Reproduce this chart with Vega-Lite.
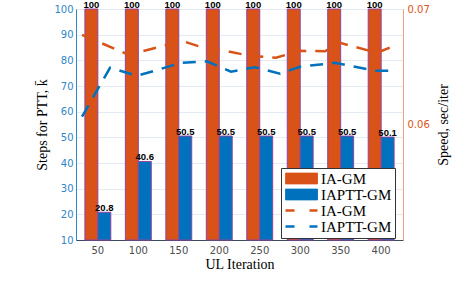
{
  "$schema": "https://vega.github.io/schema/vega-lite/v6.json",
  "width": 327,
  "height": 231,
  "autosize": {"type": "none"},
  "padding": {"left": 76, "top": 9, "right": 67, "bottom": 56},
  "background": "white",
  "config": {
    "view": {"stroke": "#8C8C8C", "strokeWidth": 1},
    "axis": {"titleFontWeight": "normal", "titleColor": "black", "titleFont": "Liberation Serif", "titleFontSize": 14, "labelFont": "DejaVu Sans", "labelFontSize": 10},
    "legend": {"title": null, "orient": "none", "legendX": 205, "legendY": 159, "padding": 3, "strokeColor": "#333333", "fillColor": "white", "labelFont": "Liberation Serif", "labelFontSize": 15, "labelColor": "black", "symbolSize": 144, "labelOffset": 22, "rowPadding": 0}
  },
  "datasets": {
    "bars": [
      {"iter": 50, "method": "IA-GM", "steps": 100},
      {"iter": 50, "method": "IAPTT-GM", "steps": 20.8},
      {"iter": 100, "method": "IA-GM", "steps": 100},
      {"iter": 100, "method": "IAPTT-GM", "steps": 40.6},
      {"iter": 150, "method": "IA-GM", "steps": 100},
      {"iter": 150, "method": "IAPTT-GM", "steps": 50.5},
      {"iter": 200, "method": "IA-GM", "steps": 100},
      {"iter": 200, "method": "IAPTT-GM", "steps": 50.5},
      {"iter": 250, "method": "IA-GM", "steps": 100},
      {"iter": 250, "method": "IAPTT-GM", "steps": 50.5},
      {"iter": 300, "method": "IA-GM", "steps": 100},
      {"iter": 300, "method": "IAPTT-GM", "steps": 50.5},
      {"iter": 350, "method": "IA-GM", "steps": 100},
      {"iter": 350, "method": "IAPTT-GM", "steps": 50.5},
      {"iter": 400, "method": "IA-GM", "steps": 100},
      {"iter": 400, "method": "IAPTT-GM", "steps": 50.1}
    ],
    "speed": [
      {"it": 30.4, "series": "IA-GM speed", "speed": 0.06776},
      {"it": 88.1, "series": "IA-GM speed", "speed": 0.06603},
      {"it": 153.2, "series": "IA-GM speed", "speed": 0.06724},
      {"it": 183.9, "series": "IA-GM speed", "speed": 0.06655},
      {"it": 212.1, "series": "IA-GM speed", "speed": 0.06629},
      {"it": 236.7, "series": "IA-GM speed", "speed": 0.06595},
      {"it": 268.6, "series": "IA-GM speed", "speed": 0.06578},
      {"it": 298.1, "series": "IA-GM speed", "speed": 0.06638},
      {"it": 328.8, "series": "IA-GM speed", "speed": 0.06634},
      {"it": 347.2, "series": "IA-GM speed", "speed": 0.06707},
      {"it": 392.6, "series": "IA-GM speed", "speed": 0.06621},
      {"it": 412.3, "series": "IA-GM speed", "speed": 0.06677},
      {"it": 30.4, "series": "IAPTT-GM speed", "speed": 0.06069},
      {"it": 64.8, "series": "IAPTT-GM speed", "speed": 0.06491},
      {"it": 97.9, "series": "IAPTT-GM speed", "speed": 0.06422},
      {"it": 123.7, "series": "IAPTT-GM speed", "speed": 0.06474},
      {"it": 151.9, "series": "IAPTT-GM speed", "speed": 0.06534},
      {"it": 183.9, "series": "IAPTT-GM speed", "speed": 0.06547},
      {"it": 213.3, "series": "IAPTT-GM speed", "speed": 0.06457},
      {"it": 242.8, "series": "IAPTT-GM speed", "speed": 0.06496},
      {"it": 273.5, "series": "IAPTT-GM speed", "speed": 0.06440},
      {"it": 298.1, "series": "IAPTT-GM speed", "speed": 0.06500},
      {"it": 341.1, "series": "IAPTT-GM speed", "speed": 0.06534},
      {"it": 390.2, "series": "IAPTT-GM speed", "speed": 0.06466},
      {"it": 412.3, "series": "IAPTT-GM speed", "speed": 0.06466}
    ]
  },
  "layer": [
    {
      "data": {"name": "bars"},
      "encoding": {
        "x": {"field": "iter", "type": "ordinal", "sort": "ascending",
              "scale": {"paddingInner": 0.36, "paddingOuter": 0.22},
              "axis": {"title": "UL Iteration", "labelAngle": 0, "labelColor": "#4D4D4D", "ticks": false, "labelPadding": 5, "titlePadding": 2, "domainColor": "#3A4B5C", "domainWidth": 1}},
        "xOffset": {"field": "method", "type": "nominal", "scale": {"domain": ["IA-GM", "IAPTT-GM"]}},
        "y": {"field": "steps", "type": "quantitative",
              "scale": {"domain": [10, 100], "nice": false, "zero": false},
              "axis": {"title": "Steps for PTT, k\u0304", "values": [10, 20, 30, 40, 50, 60, 70, 80, 90, 100], "labelColor": "#2F86C8", "domainColor": "#2F86C8", "ticks": false, "labelPadding": 3, "titlePadding": 4, "grid": true, "gridColor": "#E4EBF2", "gridWidth": 1}}
      },
      "layer": [
        {
          "mark": {"type": "bar", "stroke": "#8E44A0", "strokeWidth": 1},
          "encoding": {
            "y2": {"datum": 10},
            "color": {"field": "method", "type": "nominal",
              "scale": {"domain": ["IA-GM", "IAPTT-GM", "IA-GM speed", "IAPTT-GM speed"], "range": ["#D95319", "#0072BD", "#D95319", "#0072BD"]},
              "legend": {"labelExpr": "split(datum.label, ' ')[0]",
                "encode": {"symbols": {"update": {
                  "shape": {"signal": "datum.index < 2 ? 'M-1,-0.9H4.33V0.9H-1Z' : 'M-1,0H4.33'"},
                  "fill": {"signal": "datum.index == 0 ? '#D95319' : datum.index == 1 ? '#0072BD' : 'transparent'"},
                  "stroke": {"signal": "datum.index < 2 ? '#8E44A0' : datum.index == 2 ? '#D95319' : '#0072BD'"},
                  "strokeWidth": {"signal": "datum.index < 2 ? 1 : 2.5"},
                  "strokeDash": {"signal": "datum.index < 2 ? [1, 0] : [9, 15]"},
                  "opacity": {"value": 1}
                }}}}}
          }
        },
        {
          "mark": {"type": "text", "baseline": "alphabetic", "dy": -1.5, "font": "Liberation Sans", "fontWeight": "bold", "fontSize": 9.5, "color": "black"},
          "encoding": {"text": {"field": "steps", "type": "nominal"}}
        }
      ]
    },
    {
      "data": {"name": "speed"},
      "mark": {"type": "line", "strokeDash": [13, 9], "strokeWidth": 2.5},
      "encoding": {
        "x": {"field": "it", "type": "quantitative", "scale": {"domain": [23, 424.6], "nice": false, "zero": false}, "axis": null},
        "y": {"field": "speed", "type": "quantitative",
              "scale": {"domain": [0.05, 0.07], "nice": false, "zero": false},
              "axis": {"orient": "right", "title": "Speed, sec/iter", "values": [0.06, 0.07], "format": ".2f", "labelColor": "#D95319", "domainColor": "#F0A57E", "ticks": false, "labelPadding": 4, "titlePadding": 7, "titleAngle": 270, "titleBaseline": "top", "grid": false}},
        "color": {"field": "series", "type": "nominal", "scale": {"domain": ["IA-GM", "IAPTT-GM", "IA-GM speed", "IAPTT-GM speed"], "range": ["#D95319", "#0072BD", "#D95319", "#0072BD"]},
          "legend": {"labelExpr": "split(datum.label, ' ')[0]",
                "encode": {"symbols": {"update": {
                  "shape": {"signal": "datum.index < 2 ? 'M-1,-0.9H4.33V0.9H-1Z' : 'M-1,0H4.33'"},
                  "fill": {"signal": "datum.index == 0 ? '#D95319' : datum.index == 1 ? '#0072BD' : 'transparent'"},
                  "stroke": {"signal": "datum.index < 2 ? '#8E44A0' : datum.index == 2 ? '#D95319' : '#0072BD'"},
                  "strokeWidth": {"signal": "datum.index < 2 ? 1 : 2.5"},
                  "strokeDash": {"signal": "datum.index < 2 ? [1, 0] : [9, 15]"},
                  "opacity": {"value": 1}
                }}}}},
        "detail": {"field": "series"}
      }
    }
  ],
  "resolve": {"scale": {"x": "independent", "y": "independent"}}
}
